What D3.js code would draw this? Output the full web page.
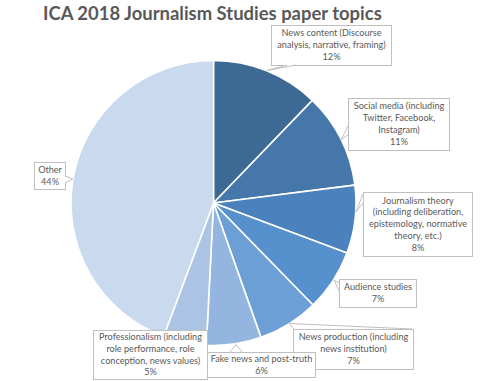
<!DOCTYPE html>
<html>
<head>
<meta charset="utf-8">
<script src="https://cdn.jsdelivr.net/npm/d3@7"></script>
<style>
  html, body { margin: 0; padding: 0; background: #fff; }
  svg { display: block; }
</style>
</head>
<body>
<script>
// ---- data ----
const categories = [
  "News content (Discourse analysis, narrative, framing)",
  "Social media (including Twitter, Facebook, Instagram)",
  "Journalism theory (including deliberation, epistemology, normative theory, etc.)",
  "Audience studies",
  "News production (including news institution)",
  "Fake news and post-truth",
  "Professionalism (including role performance, role conception, news values)",
  "Other"
];
const values = [12.2, 10.8, 7.7, 7.0, 6.9, 6.2, 4.9, 44.3];
const labelLines = [
  ["News content (Discourse", "analysis, narrative, framing)"],
  ["Social media (including", "Twitter, Facebook,", "Instagram)"],
  ["Journalism theory", "(including deliberation,", "epistemology, normative", "theory, etc.)"],
  ["Audience studies"],
  ["News production (including", "news institution)"],
  ["Fake news and post-truth"],
  ["Professionalism (including", "role performance, role", "conception, news values)"],
  ["Other"]
];
const title = "ICA 2018 Journalism Studies paper topics";

// ---- layout / style ----
const W = 500, H = 381;
const cx = 213.5, cy = 203, R = 142.5;
const colors = ["#3d6995", "#4677aa", "#4b81bc", "#5791cd", "#6d9fd7", "#93b5df", "#abc4e4", "#c9d9ee"];
const boxes = [
  {x: 271, y: 25, w: 120, h: 40, ptr: [[287, 65], [267, 70.5], [296, 65]]},
  {x: 348, y: 98, w: 101, h: 52, ptr: [[348, 126], [341, 140], [348, 135]]},
  {x: 363, y: 192, w: 109, h: 64, ptr: [[363, 194], [356, 212], [363, 203]]},
  {x: 339, y: 279, w: 77, h: 28, ptr: [[339, 283], [334, 280], [339, 291]]},
  {x: 293, y: 329, w: 120, h: 40, ptr: [[293.5, 329], [289.5, 323.5], [412.5, 329]]},
  {x: 207, y: 352, w: 108, h: 25, ptr: [[230, 352], [236, 344.5], [242, 352]]},
  {x: 93, y: 330, w: 114, h: 49, ptr: null},
  {x: 34, y: 162, w: 31, h: 27, ptr: [[65, 176], [73, 179], [65, 183]]}
];
const textColor = "#595959";
const borderColor = "#bfbfbf";

const svg = d3.select("body").append("svg").attr("width", W).attr("height", H);

// title
const t = svg.append("text")
  .attr("x", 43).attr("y", 19.5)
  .attr("font-family", "Lato, 'Open Sans', sans-serif")
  .attr("font-weight", "bold")
  .attr("fill", textColor)
  .attr("font-size", 20)
  .text(title);
const tw = t.node().getComputedTextLength();
t.attr("font-size", 20 * 339 / tw);

// pie
const pie = d3.pie().sort(null).value(d => d);
const arc = d3.arc().innerRadius(0).outerRadius(R);
const g = svg.append("g").attr("transform", `translate(${cx},${cy})`);
g.selectAll("path").data(pie(values)).join("path")
  .attr("d", arc)
  .attr("fill", (d, i) => colors[i])
  .attr("stroke", "#fff")
  .attr("stroke-width", 1.6)
  .attr("stroke-linejoin", "round");

// label font size fit
const probe = svg.append("text").attr("font-family", "Lato, sans-serif").attr("font-size", 10)
  .text("Professionalism (including");
const fs = 10 * 103 / probe.node().getComputedTextLength();
probe.remove();

const lg = svg.append("g");
categories.forEach((c, i) => {
  const b = boxes[i];
  const grp = lg.append("g");
  grp.append("rect").attr("x", b.x + 0.5).attr("y", b.y + 0.5)
    .attr("width", b.w).attr("height", b.h)
    .attr("fill", "#fff").attr("stroke", borderColor).attr("stroke-width", 1);
  if (b.ptr) {
    grp.append("path")
      .attr("d", d3.line()(b.ptr))
      .attr("fill", "#fff").attr("stroke", borderColor).attr("stroke-width", 1);
  }
  const lines = labelLines[i].concat([Math.round(values[i]) + "%"]);
  const lh = 11.8;
  const totalH = lines.length * lh;
  const y0 = b.y + b.h / 2 - totalH / 2 + lh / 2;
  lines.forEach((ln, k) => {
    grp.append("text")
      .attr("x", b.x + b.w / 2 + 0.5)
      .attr("y", y0 + k * lh)
      .attr("dy", "0.35em")
      .attr("text-anchor", "middle")
      .attr("font-family", "Lato, sans-serif")
      .attr("font-size", fs)
      .attr("fill", textColor)
      .text(ln);
  });
});
</script>
</body>
</html>
